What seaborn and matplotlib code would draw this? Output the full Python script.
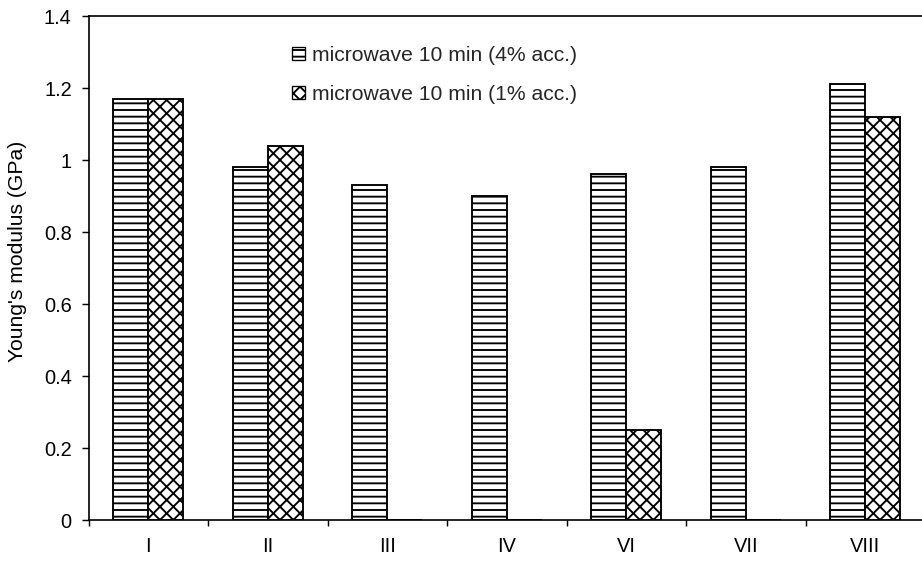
import matplotlib
matplotlib.use("Agg")
import matplotlib.pyplot as plt
import matplotlib.ticker as mticker
from matplotlib.patches import Patch
import pandas as pd
import seaborn as sns

# Young's modulus per sample group
categories = ["I", "II", "III", "IV", "VI", "VII", "VIII"]
series_names = ["microwave 10 min (4% acc.)", "microwave 10 min (1% acc.)"]
modulus_4pct = [1.17, 0.98, 0.93, 0.90, 0.96, 0.98, 1.21]
modulus_1pct = [1.17, 1.04, 0.0, 0.0, 0.25, 0.0, 1.12]
y_ticks = [0, 0.2, 0.4, 0.6, 0.8, 1.0, 1.2, 1.4]
y_tick_labels = ["0", "0.2", "0.4", "0.6", "0.8", "1", "1.2", "1.4"]
hatches = ["--", "xx"]

df = pd.DataFrame({
    "group": categories * 2,
    "series": [series_names[0]] * len(categories) + [series_names[1]] * len(categories),
    "modulus": modulus_4pct + modulus_1pct,
})

sns.set_theme(style="ticks")
plt.rcParams["font.family"] = ["Liberation Sans", "DejaVu Sans"]
plt.rcParams["hatch.linewidth"] = 1.7
plt.rcParams["hatch.color"] = "black"

W, H, DPI = 922, 562, 80
fig = plt.figure(figsize=(W / DPI, H / DPI), dpi=DPI)
left, right, top, bottom = 88.5, 925, 16, 520
ax = fig.add_axes([left / W, 1 - bottom / H, (right - left) / W, (bottom - top) / H])

sns.barplot(data=df, x="group", y="modulus", hue="series", order=categories,
            hue_order=series_names, palette=["white", "white"], edgecolor="black",
            linewidth=1.7, width=0.586, gap=0, ax=ax, legend=False)

for cont, h in zip(ax.containers, hatches):
    for bar in cont:
        bar.set_hatch(h)
        bar.set_edgecolor("black")

ax.set_ylim(0, 1.4)
ax.set_xlim(-0.5, len(categories) - 0.5)
ax.set_yticks(y_ticks)
ax.yaxis.set_major_formatter(mticker.FixedFormatter(y_tick_labels))
ax.set_xticks(range(len(categories)))
ax.set_xticklabels(categories)
ax.set_xticks([i + 0.5 for i in range(-1, len(categories))], minor=True)
ax.tick_params(axis="x", which="major", length=0, pad=15, labelsize=18)
ax.tick_params(axis="x", which="minor", length=5, width=1.3, direction="out", color="black")
ax.tick_params(axis="y", which="major", length=6, width=1.3, direction="out", pad=9,
               labelsize=18, color="black")
for lbl in ax.get_xticklabels() + ax.get_yticklabels():
    lbl.set_color("black")

for side in ["left", "bottom", "top", "right"]:
    ax.spines[side].set_visible(True)
    ax.spines[side].set_color("black")
    ax.spines[side].set_linewidth(1.5)

ax.set_xlabel("")
ax.set_ylabel("Young's modulus (GPa)", fontsize=19, color="black")
ax.yaxis.set_label_coords(-0.074, 0.532)

handles = [Patch(facecolor="white", edgecolor="black", hatch=h, linewidth=1.2)
           for h in ["--", "xx"]]
ax.legend(handles, series_names, loc="upper left",
          bbox_to_anchor=(292 / W, 1 - 46 / H), bbox_transform=fig.transFigure,
          frameon=False, fontsize=19, handlelength=0.6, handleheight=0.6,
          handletextpad=0.35, labelspacing=0.95, borderpad=0, borderaxespad=0)

fig.savefig("out.png", dpi=DPI)
